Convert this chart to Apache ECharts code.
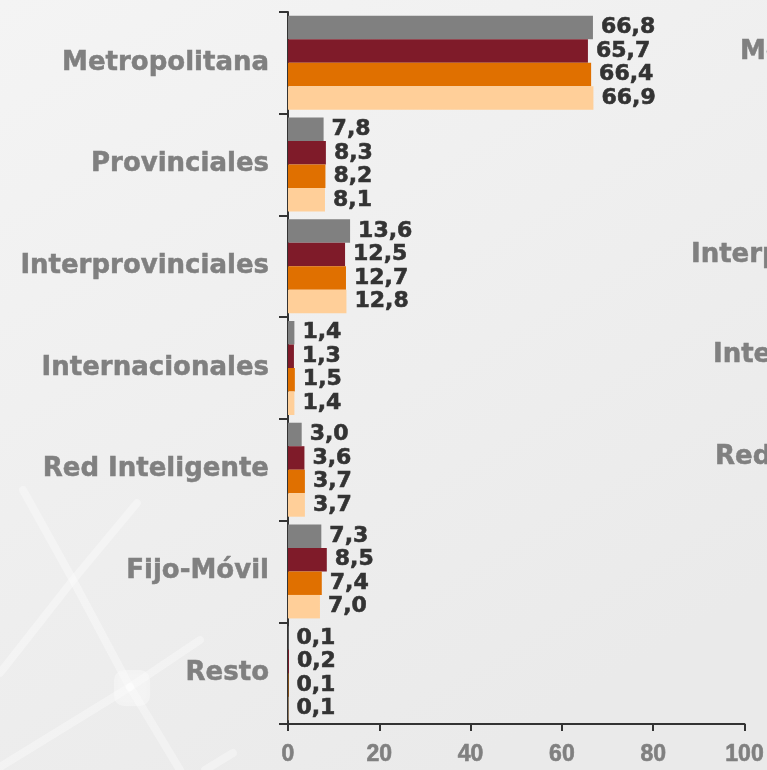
<!DOCTYPE html>
<html>
<head>
<meta charset="utf-8">
<script src="https://cdn.jsdelivr.net/npm/echarts@6/dist/echarts.min.js"></script>
<style>
html,body{margin:0;padding:0;background:#efefef;}
#c{width:767px;height:770px;}
</style>
</head>
<body>
<div id="c"></div>
<script>
const categories = ['Metropolitana','Provinciales','Interprovinciales','Internacionales','Red Inteligente','Fijo-Móvil','Resto'];
const serie1 = [66.8, 7.8, 13.6, 1.4, 3.0, 7.3, 0.1];
const serie2 = [65.7, 8.3, 12.5, 1.3, 3.6, 8.5, 0.2];
const serie3 = [66.4, 8.2, 12.7, 1.5, 3.7, 7.4, 0.1];
const serie4 = [66.9, 8.1, 12.8, 1.4, 3.7, 7.0, 0.1];
const seriesNames = ['Serie 1','Serie 2','Serie 3','Serie 4'];
const xTicks = [0, 20, 40, 60, 80, 100];
const ghostLabels = ['Metropolitana','Interprovinciales','Internacionales','Red Inteligente'];

const colors = ['#808080','#7f1b29','#e07000','#ffcf99'];
const chart = echarts.init(document.getElementById('c'), null, {renderer:'canvas'});

function fmt(v){ return v.toFixed(1).replace('.', ','); }

const seriesData = [serie1, serie2, serie3, serie4];
const series = seriesData.map((d, i) => ({
  type: 'bar',
  name: seriesNames[i],
  data: d,
  barGap: '0%',
  barCategoryGap: '7.6%',
  itemStyle: {color: colors[i]},
  label: {
    show: true,
    position: 'right',
    distance: 8,
    formatter: p => fmt(p.value),
    color: '#333333',
    fontFamily: 'DejaVu Sans',
    fontWeight: 'bold',
    fontSize: 22,
    textBorderColor: '#333333',
    textBorderWidth: 0.6
  },
  z: 3
}));

const bgLines = [
  [[23,490],[73,580],[130,687]],
  [[137,503],[73,580],[0,673]],
  [[130,687],[200,640]],
  [[130,687],[0,767]],
  [[130,687],[180,770]],
  [[233,753],[205,770]]
];

const graphics = [];
bgLines.forEach(pts => {
  graphics.push({
    type: 'polyline',
    shape: {points: pts},
    style: {stroke: 'rgba(255,255,255,0.3)', lineWidth: 8, fill: null, lineCap: 'round', lineJoin: 'round',
            shadowBlur: 5, shadowColor: 'rgba(255,255,255,0.35)'},
    z: -10, silent: true
  });
});
graphics.push({
  type: 'rect', shape: {x: 114, y: 670, width: 36, height: 36, r: 10},
  style: {fill: 'rgba(255,255,255,0.3)', shadowBlur: 6, shadowColor: 'rgba(255,255,255,0.4)'}, z: -10, silent: true
});
const ghostPos = [[740, 52], [691, 255], [713, 355], [715, 457]];
ghostLabels.forEach((t, i) => {
  graphics.push({
    type: 'text', x: ghostPos[i][0], y: ghostPos[i][1],
    style: {text: t, fill: '#808080', font: 'bold 26px "DejaVu Sans"', textVerticalAlign: 'middle', textAlign: 'left',
            stroke: '#808080', lineWidth: 0.5},
    z: 1, silent: true
  });
});

chart.setOption({
  backgroundColor: {
    type: 'linear', x: 0, y: 0, x2: 0.6, y2: 1,
    colorStops: [{offset: 0, color: '#f4f4f4'}, {offset: 1, color: '#eaeaea'}]
  },
  animation: false,
  graphic: graphics,
  grid: {left: 288, right: 21, top: 12, bottom: 46, containLabel: false},
  xAxis: {
    type: 'value',
    min: xTicks[0],
    max: xTicks[xTicks.length - 1],
    interval: xTicks[1] - xTicks[0],
    axisLine: {show: true, lineStyle: {color: '#333333', width: 2}},
    axisTick: {show: true, length: 7, lineStyle: {color: '#333333', width: 2}},
    splitLine: {show: false},
    axisLabel: {
      color: '#808080', fontFamily: '"Liberation Sans Narrow", "Liberation Sans"', fontWeight: 'bold', fontSize: 23, margin: 19,
      textBorderColor: '#808080', textBorderWidth: 0.6
    }
  },
  yAxis: {
    type: 'category',
    data: categories,
    inverse: true,
    axisLine: {show: true, lineStyle: {color: '#333333', width: 2}},
    axisTick: {show: true, length: 9, alignWithLabel: false, lineStyle: {color: '#333333', width: 2}},
    axisLabel: {
      color: '#808080', fontFamily: 'DejaVu Sans', fontWeight: 'bold', fontSize: 26, margin: 19,
      textBorderColor: '#808080', textBorderWidth: 0.5
    }
  },
  series: series
});
</script>
</body>
</html>
